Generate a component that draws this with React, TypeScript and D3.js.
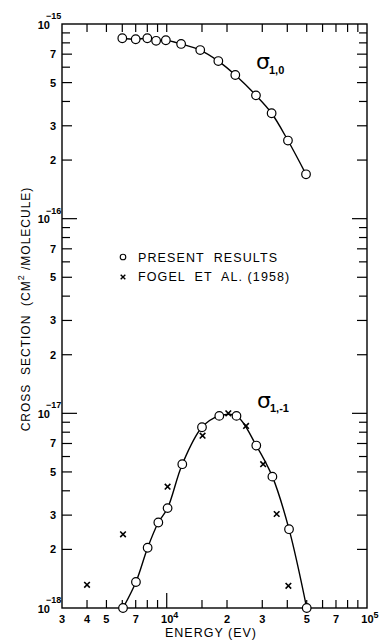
import React from 'react';
import * as d3 from 'd3';

const W = 380;
const H = 640;

// sigma(1,0): present results
const s10Energy = [6000, 7000, 8000, 8850, 9900, 11800, 14700, 18100, 22000, 27900, 33400, 40300, 49600];
const s10Value = [8.45e-16, 8.35e-16, 8.45e-16, 8.2e-16, 8.25e-16, 7.9e-16, 7.35e-16, 6.45e-16, 5.47e-16, 4.3e-16, 3.48e-16, 2.52e-16, 1.69e-16];

// sigma(1,-1): present results
const s11Energy = [6050, 7020, 8030, 9080, 10100, 11960, 15000, 18300, 22300, 28000, 33700, 40800, 50000];
const s11Value = [1.0e-18, 1.36e-18, 2.04e-18, 2.75e-18, 3.26e-18, 5.48e-18, 8.48e-18, 9.7e-18, 9.7e-18, 6.83e-18, 4.73e-18, 2.54e-18, 1.0e-18];

// sigma(1,-1): Fogel et al. (1958)
const fogelEnergy = [4000, 6050, 10100, 15100, 20300, 24900, 30300, 35400, 40500];
const fogelValue = [1.315e-18, 2.39e-18, 4.2e-18, 7.68e-18, 1.0e-17, 8.61e-18, 5.48e-18, 3.04e-18, 1.3e-18];

const xTicks = [4000, 5000, 6000, 7000, 8000, 9000, 10000, 15000, 20000, 30000, 40000, 50000, 60000, 70000, 80000, 90000];
const xLabels: { v: number; t: string; sup?: string }[] = [
  { v: 3000, t: '3' }, { v: 4000, t: '4' }, { v: 5000, t: '5' }, { v: 7000, t: '7' },
  { v: 10000, t: '10', sup: '4' }, { v: 20000, t: '2' }, { v: 30000, t: '3' }, { v: 50000, t: '5' },
  { v: 70000, t: '7' }, { v: 100000, t: '10', sup: '5' },
];
const yDecades = [-18, -17, -16, -15];
const yMantissas = [2, 3, 4, 5, 6, 7, 8, 9];
const yLabeledMantissas = [2, 3, 5, 7];

const FONT = '"Liberation Sans", Arial, sans-serif';

export default function App() {
  const x = d3.scaleLog().domain([3000, 100000]).range([62, 367]);
  const y = d3.scaleLog().domain([1e-18, 1e-15]).range([608, 24]);
  const [x0, x1] = x.range();
  const [y0, y1] = y.range();

  const line = d3.line<[number, number]>()
    .x((d) => x(d[0]))
    .y((d) => y(d[1]))
    .curve(d3.curveCatmullRom.alpha(0.5));

  const s10 = s10Energy.map((e, i) => [e, s10Value[i]] as [number, number]);
  const s11 = s11Energy.map((e, i) => [e, s11Value[i]] as [number, number]);
  const fogel = fogelEnergy.map((e, i) => [e, fogelValue[i]] as [number, number]);

  const yMinor: { v: number; m: number; labeled: boolean }[] = [];
  yDecades.slice(0, 3).forEach((d) => {
    yMantissas.forEach((m) => {
      yMinor.push({ v: m * Math.pow(10, d), m, labeled: yLabeledMantissas.includes(m) });
    });
  });

  const cross = (cx: number, cy: number, s: number) =>
    `M${cx - s},${cy - s}L${cx + s},${cy + s}M${cx + s},${cy - s}L${cx - s},${cy + s}`;

  return (
    <svg width={W} height={H} style={{ position: 'absolute', left: 0, top: 0, background: '#fff' }}
      fontFamily={FONT}>
      <rect x={0} y={0} width={W} height={H} fill="#fff" />
      <defs>
        <clipPath id="plotclip">
          <rect x={x0} y={y1 - 2} width={x1 - x0} height={y0 - y1 + 4} />
        </clipPath>
      </defs>

      {/* frame */}
      <rect x={x0} y={y1} width={x1 - x0} height={y0 - y1} fill="none" stroke="#000" strokeWidth={1.4} />

      {/* x ticks bottom and top */}
      {xTicks.map((v) => (
        <g key={'xt' + v}>
          <line x1={x(v)} x2={x(v)} y1={y0} y2={y0 - (v === 10000 ? 15 : 8)} stroke="#000" strokeWidth={1.2} />
          <line x1={x(v)} x2={x(v)} y1={y1} y2={y1 + 8} stroke="#000" strokeWidth={1.2} />
        </g>
      ))}

      {/* y ticks left and right */}
      {yMinor.map((t) => (
        <g key={'yt' + t.v}>
          <line x1={x0} x2={x0 + (t.labeled ? 10 : 8)} y1={y(t.v)} y2={y(t.v)} stroke="#000" strokeWidth={1.2} />
          <line x1={x1} x2={x1 - (t.labeled ? 10 : 8)} y1={y(t.v)} y2={y(t.v)} stroke="#000" strokeWidth={1.2} />
        </g>
      ))}
      {yDecades.slice(1, 3).map((d) => (
        <g key={'yd' + d}>
          <line x1={x0} x2={x0 + 15} y1={y(Math.pow(10, d))} y2={y(Math.pow(10, d))} stroke="#000" strokeWidth={1.2} />
          <line x1={x1} x2={x1 - 15} y1={y(Math.pow(10, d))} y2={y(Math.pow(10, d))} stroke="#000" strokeWidth={1.2} />
        </g>
      ))}

      {/* y labels */}
      {yMinor.filter((t) => t.labeled).map((t) => (
        <text key={'yl' + t.v} x={x0 - 6} y={y(t.v) + 4} textAnchor="end" fontSize={11} fontWeight="bold">
          {t.m}
        </text>
      ))}
      {yDecades.map((d) => (
        <g key={'ydl' + d}>
          <text x={x0 - 12} y={y(Math.pow(10, d)) + 4.5} textAnchor="end" fontSize={11} fontWeight="bold">10</text>
          <text x={x0 - 16} y={y(Math.pow(10, d)) - 5} textAnchor="start" fontSize={9} fontWeight="bold">{'\u2212' + String(-d)}</text>
        </g>
      ))}

      {/* x labels */}
      {xLabels.map((l) => (
        <text key={'xl' + l.v} x={x(l.v) + (l.sup ? 3 : 0)} y={y0 + 15} textAnchor="middle" fontSize={11} fontWeight="bold">
          {l.t}
          {l.sup ? <tspan dy={-5} fontSize={9}>{l.sup}</tspan> : null}
        </text>
      ))}

      {/* curves */}
      <g clipPath="url(#plotclip)">
        <path d={line(s10) || ''} fill="none" stroke="#000" strokeWidth={1.4} />
        <path d={line(s11) || ''} fill="none" stroke="#000" strokeWidth={1.4} />
      </g>

      {/* circles */}
      {[...s10, ...s11].map((d, i) => (
        <circle key={'c' + i} cx={x(d[0])} cy={y(d[1])} r={4.3} fill="#fff" stroke="#000" strokeWidth={1.2} />
      ))}

      {/* crosses */}
      {fogel.map((d, i) => (
        <path key={'f' + i} d={cross(x(d[0]), y(d[1]), 2.8)} stroke="#000" strokeWidth={1.6} fill="none" />
      ))}

      {/* sigma labels */}
      <text x={256} y={69} fontSize={22} fontFamily='"DejaVu Sans", sans-serif'>σ</text>
      <text x={269} y={74} fontSize={11} fontWeight="bold">1,0</text>
      <text x={257} y={408} fontSize={22} fontFamily='"DejaVu Sans", sans-serif'>σ</text>
      <text x={270} y={412} fontSize={11} fontWeight="bold">1,-1</text>

      {/* legend */}
      <circle cx={123} cy={257} r={2.8} fill="#fff" stroke="#000" strokeWidth={1.1} />
      <text x={138} y={262} fontSize={12.5} letterSpacing={1.1} style={{ whiteSpace: 'pre' }}>PRESENT  RESULTS</text>
      <path d={cross(123, 277, 2.3)} stroke="#000" strokeWidth={1.4} />
      <text x={138} y={281} fontSize={12.5} letterSpacing={1.1} style={{ whiteSpace: 'pre' }}>FOGEL  ET  AL. (1958)</text>

      {/* axis titles */}
      <text x={211} y={637} textAnchor="middle" fontSize={12.5} letterSpacing={1}>ENERGY (EV)</text>
      <text transform="translate(30,309) rotate(-90)" textAnchor="middle" fontSize={12} letterSpacing={1} style={{ whiteSpace: 'pre' }}>
        CROSS  SECTION  (CM<tspan dy={-6} fontSize={9}>2</tspan><tspan dy={6}> /MOLECULE)</tspan>
      </text>
    </svg>
  );
}
